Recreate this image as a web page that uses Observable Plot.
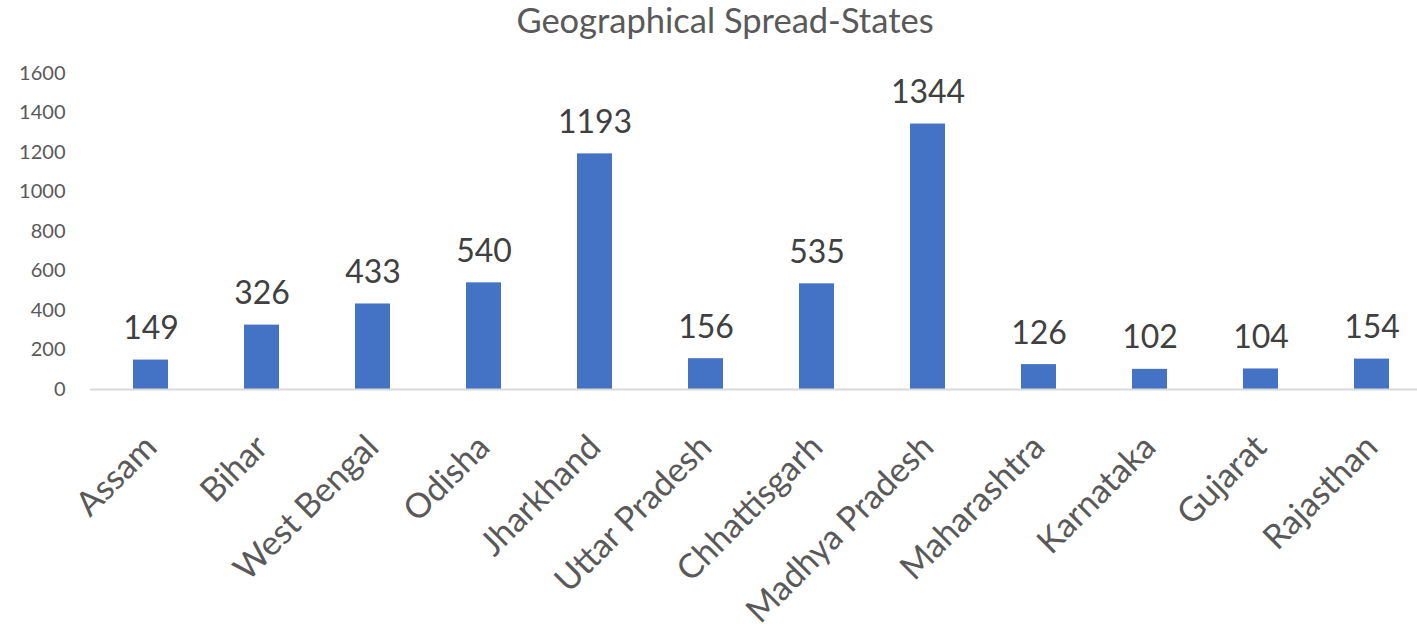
<!DOCTYPE html>
<html>
<head>
<meta charset="utf-8">
<script src="https://cdn.jsdelivr.net/npm/d3@7"></script>
<script src="https://cdn.jsdelivr.net/npm/@observablehq/plot@0.6"></script>
<style>
  body { margin: 0; background: #fff; }
  #chart { width: 1417px; height: 631px; overflow: hidden; }
</style>
</head>
<body>
<div id="chart"></div>
<script>
const title = "Geographical Spread-States";
const states = ["Assam", "Bihar", "West Bengal", "Odisha", "Jharkhand", "Uttar Pradesh",
                "Chhattisgarh", "Madhya Pradesh", "Maharashtra", "Karnataka", "Gujarat", "Rajasthan"];
const counts = [149, 326, 433, 540, 1193, 156, 535, 1344, 126, 102, 104, 154];
const yTicks = [0, 200, 400, 600, 800, 1000, 1200, 1400, 1600];

const data = states.map((s, i) => ({state: s, count: counts[i]}));

const chart = Plot.plot({
  width: 1417,
  height: 631,
  marginTop: 73,
  marginBottom: 242,
  marginLeft: 90,
  marginRight: 0,
  style: {fontFamily: "Lato, sans-serif", background: "white", overflow: "visible"},
  x: {domain: states, range: [89.6, 1431.2], paddingInner: 0.687, paddingOuter: 0.3435, align: 0.5},
  y: {domain: [0, 1600]},
  marks: [
    Plot.text([title], {frameAnchor: "top", lineAnchor: "bottom", dy: -41, dx: -29,
                        fontSize: 34.5, fill: "#595959"}),
    Plot.barY(data, {x: "state", y: "count", fill: "#4472C4"}),
    Plot.ruleY([0], {stroke: "#D9D9D9", strokeWidth: 2}),
    Plot.text(data, {x: "state", y: "count", text: d => String(d.count), lineAnchor: "bottom", dy: -21,
                     fontSize: 32, fill: "#404040"}),
    Plot.axisY({ticks: yTicks, tickFormat: d => String(d), tickSize: 0, tickPadding: 25, fontSize: 20,
                color: "#595959", label: null}),
    Plot.axisX({tickSize: 0, tickPadding: 52, tickRotate: -45, fontSize: 34, color: "#595959", label: null})
  ]
});
document.getElementById("chart").appendChild(chart);
</script>
</body>
</html>
